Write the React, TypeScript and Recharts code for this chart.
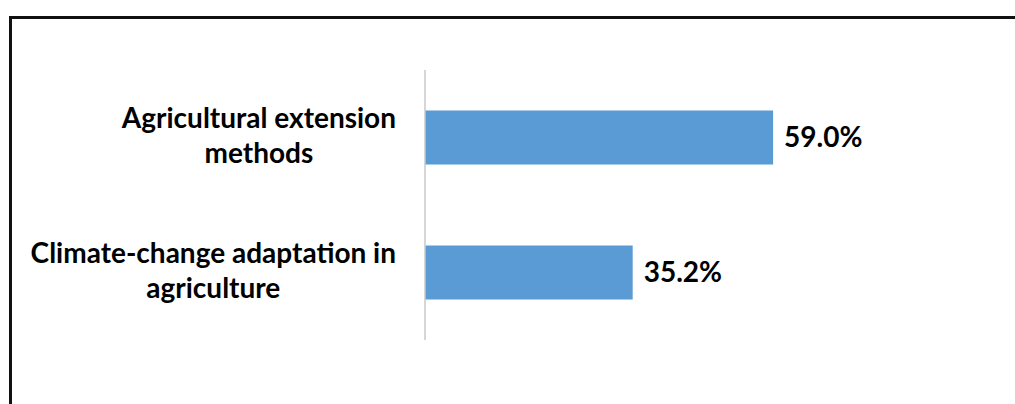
import React from "react";
import { BarChart, Bar, XAxis, YAxis, LabelList } from "recharts";

const categories = ["Agricultural extension methods", "Climate-change adaptation in agriculture"];
const categoryLines = [
  ["Agricultural extension", "methods"],
  ["Climate-change adaptation in", "agriculture"],
];
const values = [59.0, 35.2];

const data = categories.map((c, i) => ({ name: c, value: values[i] }));

const FONT = "Lato, 'Open Sans', sans-serif";
const CAT_SIZE = 28;

let ctx: CanvasRenderingContext2D | null = null;
function measure(text: string, size: number) {
  if (typeof document === "undefined") return text.length * size * 0.5;
  if (!ctx) ctx = document.createElement("canvas").getContext("2d");
  if (!ctx) return text.length * size * 0.5;
  ctx.font = `bold ${size}px Lato`;
  return ctx.measureText(text).width;
}

const CategoryTick = (props: any) => {
  const { x, y, payload } = props;
  const idx = categories.indexOf(payload.value);
  const lines = idx >= 0 ? categoryLines[idx] : [String(payload.value)];
  const maxW = Math.max(...lines.map((l) => measure(l, CAT_SIZE)));
  const cx = x - maxW / 2;
  return (
    <g>
      {lines.map((l, i) => (
        <text
          key={i}
          x={cx}
          y={y - 10 + i * 35}
          textAnchor="middle"
          fontFamily={FONT}
          fontWeight="bold"
          fontSize={CAT_SIZE}
          fill="#000"
        >
          {l}
        </text>
      ))}
    </g>
  );
};

export default function App() {
  return (
    <div style={{ position: "absolute", left: 0, top: 0, width: 1015, height: 404, overflow: "hidden", background: "#fff" }}>
      <div
        style={{
          position: "absolute",
          left: 9,
          top: 16,
          width: 1040,
          height: 420,
          border: "3px solid #111",
          boxSizing: "border-box",
        }}
      />
      <div style={{ position: "absolute", left: 0, top: 0 }}>
        <BarChart
          width={1015}
          height={404}
          data={data}
          layout="vertical"
          margin={{ top: 70, right: 177, bottom: 64, left: 0 }}
          barCategoryGap="30%"
        >
          <XAxis type="number" domain={[0, 70]} hide />
          <YAxis
            type="category"
            dataKey="name"
            width={425}
            axisLine={{ stroke: "#c8c8c8", strokeWidth: 1.5 }}
            tickLine={false}
            tickSize={0}
            tickMargin={29}
            tick={<CategoryTick />}
            interval={0}
          />
          <Bar dataKey="value" fill="#5b9bd5" isAnimationActive={false}>
            <LabelList
              dataKey="value"
              position="right"
              offset={11}
              formatter={(v: any) => `${Number(v).toFixed(1)}%`}
              style={{ fontFamily: FONT, fontWeight: "bold", fontSize: 28, fill: "#000" }}
            />
          </Bar>
        </BarChart>
      </div>
    </div>
  );
}
